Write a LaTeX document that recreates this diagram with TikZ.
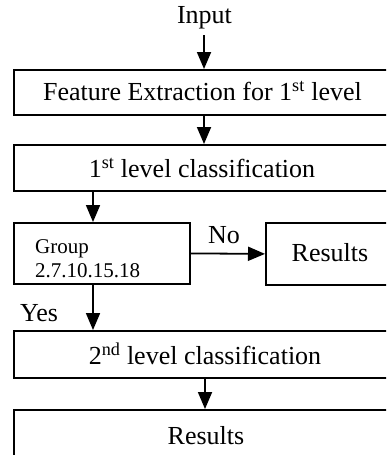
\documentclass[tikz,border=0pt]{standalone}
\usepackage{fontspec}
\setmainfont{Liberation Serif}
\usetikzlibrary{arrows.meta}
\begin{document}
\begin{tikzpicture}[x=1pt,y=-1pt,
  box/.style={draw,line width=1.8pt,rectangle,inner sep=0pt,anchor=north west},
  flow/.style={line width=1.8pt,-{Triangle[length=17pt,width=14pt]}},
  lbl/.style={inner sep=0pt,font=\fontsize{26}{28}\selectfont},
  grptext/.style={inner sep=0pt,anchor=base west,font=\fontsize{21}{24}\selectfont}]
\useasboundingbox (0,0) rectangle (386,455);
\clip (0,0) rectangle (386,455);
% process boxes (the wide ones run off the right-hand side)
\node[box,minimum width=379pt,minimum height=45pt] (fe) at (13,69) {};
\node[box,minimum width=379pt,minimum height=46pt] (c1) at (13,144) {};
\node[box,minimum width=176pt,minimum height=61pt] (grp) at (13,222) {};
\node[box,minimum width=127pt,minimum height=62pt] (res1) at (265,222) {};
\node[box,minimum width=379pt,minimum height=47pt] (c2) at (13,330) {};
\node[box,minimum width=379pt,minimum height=50pt] (res2) at (13,409) {};
% texts
\node[lbl] (in) at (204.5,18) {Input};
\node[lbl] at (202.5,91) {Feature Extraction for 1\textsuperscript{st} level};
\node[lbl] at (202,168) {1\textsuperscript{st} level classification};
\node[grptext] (g1) at (35,253) {Group};
\node[grptext] (g2) at (35,277) {2.7.10.15.18};
\node[lbl] at (330,253) {Results};
\node[lbl] at (205,354) {2\textsuperscript{nd} level classification};
\node[lbl] at (206,436) {Results};
\node[lbl] (no) at (224,235) {No};
\node[lbl] (yes) at (39,313) {Yes};
% connectors
\draw[flow] (in.south -| 204,0) ++(0,6) coordinate (a0) -- (a0 |- fe.north);
\draw[flow] (204,0 |- fe.south) -- (204,0 |- c1.north);
\draw[flow] (93,0 |- c1.south) -- (93,0 |- grp.north);
\draw[flow] (grp.east) -- (res1.west);
\draw[flow] (93,0 |- grp.south) -- (93,0 |- c2.north);
\draw[flow] (205,0 |- c2.south) -- (205,0 |- res2.north);
\end{tikzpicture}
\end{document}
